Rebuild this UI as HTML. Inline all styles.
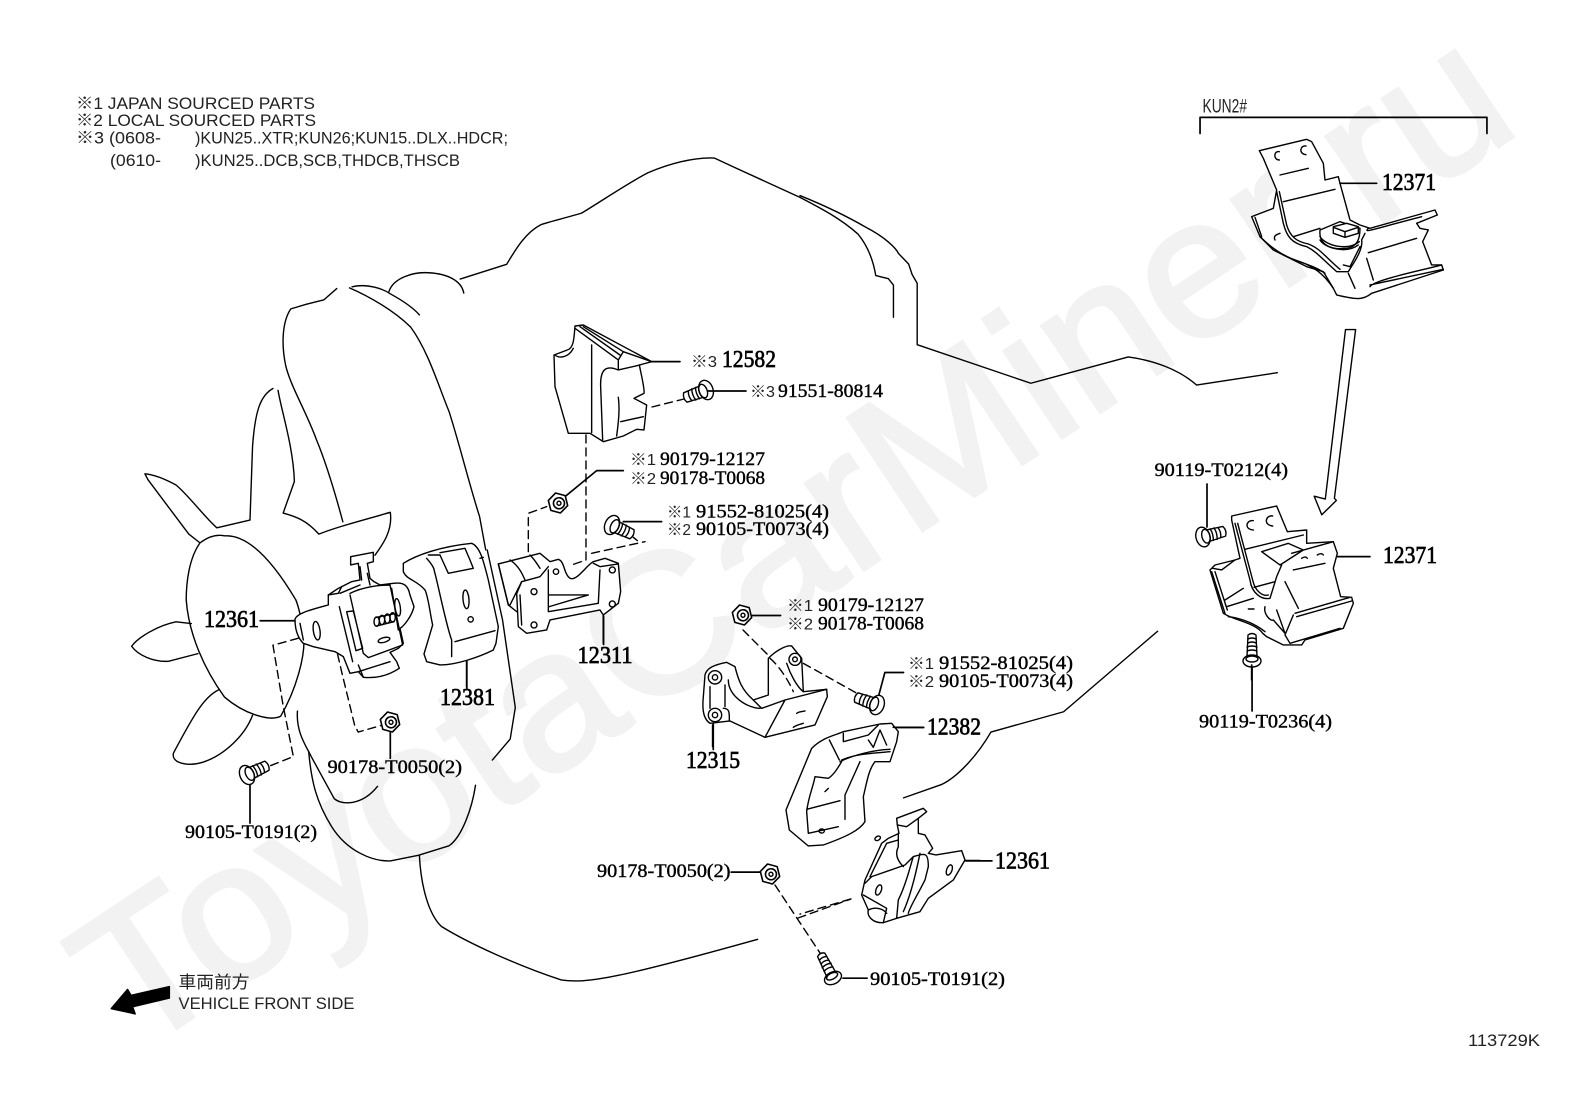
<!DOCTYPE html>
<html><head><meta charset="utf-8"><style>
html,body{margin:0;padding:0;background:#fff}
svg{display:block}
svg *{vector-effect:non-scaling-stroke}
.l{fill:none;stroke:#000;stroke-width:1.4;stroke-linejoin:round;stroke-linecap:round}
.l path.f,.f{fill:#fff}
.t{stroke-width:1.7}
.d{fill:none;stroke:#000;stroke-width:1.4;stroke-dasharray:8 5}
.b{font:24px "Liberation Serif",serif;fill:#000;stroke:#000;stroke-width:.7}
.s{font:18.5px "Liberation Serif",serif;fill:#000;stroke:#000;stroke-width:.4}
.k{font:16px "Liberation Sans","Noto Sans CJK JP",sans-serif;fill:#222}
.n{font:17px "Liberation Sans","Noto Sans CJK JP",sans-serif;fill:#222}
</style></head><body>
<svg width="1592" height="1099" viewBox="0 0 1592 1099" xmlns="http://www.w3.org/2000/svg">
<defs>
<g id="bolt" class="l">
<path class="f" d="M4,-6 L22,-5 Q25,0 22,5 L4,6 Z"/>
<path d="M9,-6 Q11,0 9,6 M13,-6 Q15,0 13,6 M17,-5 Q19,0 17,5"/>
<ellipse class="f" cx="0" cy="0" rx="7" ry="10"/><ellipse cx="3" cy="0" rx="4" ry="7"/>
</g>
<g id="boltL" class="l">
<path class="f" d="M4,-5 L26,-4 Q29,0 26,4 L4,5 Z"/>
<path d="M10,-5 Q12,0 10,5 M14,-5 Q16,0 14,5 M18,-4 Q20,0 18,4 M22,-4 Q24,0 22,4"/>
<ellipse class="f" cx="0" cy="0" rx="6" ry="9"/><ellipse cx="2" cy="0" rx="3" ry="6"/>
</g>
<g id="nut" class="l">
<polygon class="f" points="-5,-9 5,-9 10,0 5,9 -5,9 -10,0" style="stroke-width:1.6"/>
<circle cx="1" cy="0" r="5.5" style="stroke-width:1.6"/><circle cx="1" cy="0" r="2" style="stroke-width:1.4"/>
</g>
</defs>
<text transform="translate(133,1057) rotate(-33.7)" font-family="Liberation Sans,sans-serif" font-size="196" fill="#f2f2f2" stroke="#f2f2f2" stroke-width="4" textLength="1672" lengthAdjust="spacingAndGlyphs">ToyotaCarMiner.ru</text>

<!-- z1 outlines -->
<g class="l" transform="translate(0,50) scale(.5102 .3508)">
<path d="M902,653 L993,611 C1010,570 1030,520 1060,498 C1075,490 1100,482 1140,465 C1180,430 1230,380 1270,350 C1310,325 1360,305 1400,308 L1440,335 L1568,420"/>
<path d="M762,690 C770,650 810,632 840,635 C880,638 905,660 909,693"/>
<path d="M660,680 L635,712 L600,725 L570,738 C555,770 550,830 560,900 C570,960 600,1030 620,1110 C640,1180 660,1280 672,1345"/>
<path d="M685,678 C720,700 770,740 805,790 C840,860 860,960 880,1030 C900,1120 920,1240 940,1330 L952,1425"/>
<path d="M690,675 C720,665 750,680 765,695 C790,715 810,735 822,755"/>
<path d="M535,965 C510,985 500,1030 495,1130 L490,1340 L425,1362 C400,1330 370,1270 345,1240 C320,1220 300,1210 284,1208 L290,1225 L370,1380 L392,1405 C370,1450 365,1520 365,1568"/>
<path d="M545,970 C550,1020 575,1130 577,1230 L555,1320 C580,1330 600,1340 625,1380 C660,1360 700,1345 765,1318 C770,1370 750,1410 735,1440"/>
<path d="M392,1405 C410,1385 425,1380 440,1385 C490,1380 540,1470 580,1568"/>
</g>
<!-- z2 outlines -->
<g class="l" transform="translate(800,50) scale(.5051 .3508)">
<path d="M0,415 C60,450 100,480 130,505 C170,535 190,565 195,580 L215,610 L222,640 L232,665 L232,840 L457,950 L650,875 C700,885 750,910 785,955 L945,920"/>
<path d="M0,420 C40,450 80,480 115,525 C135,560 145,600 150,643 L175,652 L185,670 L185,762"/>
<path d="M792,238 V192 H1360 V238" class="t"/>
<path class="f" d="M1080,797 L1100,797 L1058,1278 L1062,1284 L1033,1325 L1018,1272 L1040,1280 Z"/>
</g>
<!-- z3 outlines -->
<g class="l" transform="translate(0,550) scale(.5102 .3501)">
<path d="M955,0 L985,200 L1010,450 L1000,540 L965,600"/>
<path d="M932,672 C925,740 905,820 880,845 L820,872 L765,888 C730,890 680,860 650,790 C620,720 610,660 605,575"/>
<path d="M583,460 C580,520 600,560 610,590 L655,710 C670,730 710,730 740,675"/>
<path d="M365,143 C370,240 400,340 440,420 C480,470 530,490 550,475 C580,400 600,300 595,240 C590,190 586,165 580,143"/>
<path d="M375,210 L345,205 C310,215 270,250 258,275 C270,300 300,320 330,318 L388,296"/>
<path d="M428,400 C400,420 380,470 340,580 C335,610 370,620 400,605 C440,585 480,530 495,472"/>
<path d="M822,872 C825,960 840,1040 865,1075 C920,1125 1020,1190 1100,1228 C1150,1240 1220,1220 1485,1112"/>
<path class="t" d="M510,202 H580 M765,515 V595 M490,670 V780 M1183,190 V270 M915,315 V395 M1398,495 V570 M1433,920 H1490 M1475,187 H1530"/>
<path class="d" d="M585,252 L535,272 L555,445 L575,590 L520,622"/>
<path class="d" d="M650,225 L670,350 L695,500 L702,520 L750,500"/>
<path d="M332,1247 L332,1280 L260,1305 L265,1325 L218,1310 L250,1255 L257,1272 Z" style="fill:#000"/>
</g>
<!-- z4 outlines -->
<g class="l" transform="translate(800,550) scale(.5051 .3501)">
<path d="M708,232 L522,462 L378,520 C350,590 310,650 280,670 L205,708"/>
<path class="t" d="M205,350 H168 L155,420 M188,507 H245 M328,888 H380 M85,1223 H133 M895,325 V460"/>
<path class="d" d="M100,997 L0,1040"/>
</g>

<!-- 12361 + 12381 -->
<g class="l" transform="translate(280,530) scale(.3333)">
<path class="f" d="M370,100 C410,75 480,50 575,40 C600,50 610,90 625,150 L655,290 L648,340 L640,360 C600,380 530,405 480,405 L440,395 L432,372 L458,285 C450,250 445,200 435,180 C410,150 380,150 370,125 Z"/>
<path d="M440,85 C470,120 460,120 465,130 C480,190 500,290 515,330 V380 M445,75 L480,75 L505,130 L580,115 L570,90 L555,55 L480,68 M525,335 L645,302 M600,85 L610,82"/>
<ellipse cx="558" cy="208" rx="9" ry="28" transform="rotate(-5 558 208)"/><circle cx="572" cy="268" r="8"/>
<path class="t" d="M560,395 V470"/>
<path class="f" d="M45,268 C50,250 90,240 145,225 L145,195 L175,175 L215,155 L240,150 L235,100 L212,105 L212,80 L280,67 L280,95 L262,100 L270,145 L282,155 L300,165 L340,160 C375,155 385,170 390,195 L402,230 C395,260 370,290 360,295 L370,340 L355,355 L330,367 L350,395 L358,415 C320,440 280,445 250,442 L235,425 L210,430 L190,380 L165,365 L100,350 L70,340 C50,320 45,290 45,268 Z"/>
<path d="M210,190 C250,170 300,165 330,165 L368,345 L265,383 L250,370 L210,195 M178,230 L218,395 M200,245 L220,243 L248,355 L228,362 Z M60,280 L70,330 M235,405 L250,442 M235,425 L330,395 M145,195 L175,190 L185,170 M180,190 L240,165 M240,110 L245,150 M262,130 L270,165 M335,175 L355,300"/>
<ellipse cx="110" cy="302" rx="10" ry="28" transform="rotate(-8 110 302)"/>
<ellipse cx="353" cy="232" rx="8" ry="26" transform="rotate(-8 353 232)"/>
<ellipse cx="312" cy="330" rx="18" ry="7" transform="rotate(-15 312 330)"/>
<path d="M290,262 L340,252 M290,288 L342,275"/><ellipse cx="290" cy="275" rx="8" ry="14"/><ellipse cx="306" cy="270" rx="8" ry="14"/><ellipse cx="322" cy="266" rx="8" ry="14"/><ellipse cx="338" cy="262" rx="8" ry="14"/>
</g>

<!-- 12582, 12311 -->
<g class="l" transform="translate(490,310) scale(.3333)">
<path class="f" d="M255,48 L280,45 L485,155 L448,165 C455,200 465,240 462,250 L432,265 L470,285 L462,360 L440,358 L400,378 L340,395 L300,370 L235,370 L195,230 L192,135 L232,120 C250,115 252,90 255,48 Z"/>
<path d="M305,105 V368 M255,55 L385,150 V180 L450,165 M385,150 L400,125 M280,50 L400,125 L485,155 M270,50 L390,135 M385,180 C350,165 330,175 332,230 L338,390 M385,262 C390,300 385,340 380,378 M392,335 L460,320 M195,135 C205,145 235,145 250,115"/>
<path class="t" d="M485,155 H570 M225,560 L320,482 H400 M400,635 H515"/>
<path class="d" d="M288,375 V750 L245,765"/>
<path class="d" d="M115,725 V610 L170,590"/>
<path class="d" d="M305,730 L465,695"/>
<path d="M430,682 L442,692"/>
<path class="f" d="M25,762 L150,730 L180,755 L205,748 C225,755 220,790 240,805 C260,815 290,765 310,755 L345,745 L385,760 L392,845 L385,880 L340,915 L330,900 L180,930 L170,960 L110,970 L85,950 L80,850 L95,815 L60,885 L55,885 Z"/>
<path d="M25,762 L55,885 L80,905 M60,750 C90,770 100,800 105,810 M80,850 L95,815 L150,800 L175,770 M120,735 C135,750 140,760 150,775 M175,780 V905 L325,880 L330,780 M178,855 L295,855 L178,890 M310,760 L330,770 L385,762 M90,855 L95,945"/>
<circle cx="132" cy="845" r="9"/><circle cx="132" cy="945" r="9"/><circle cx="367" cy="780" r="9"/><circle cx="367" cy="882" r="9"/><circle cx="198" cy="785" r="8"/>
<path class="t" d="M340,915 V1000"/>
</g>

<!-- hardware -->
<use href="#nut" transform="translate(558,503) rotate(15)"/>
<use href="#nut" transform="translate(390,722) rotate(15)"/>
<use href="#nut" transform="translate(742,615) rotate(15)"/>
<use href="#nut" transform="translate(770,874) rotate(15)"/>
<use href="#bolt" transform="translate(706,390) rotate(160)"/>
<use href="#bolt" transform="translate(612,525) rotate(25)"/>
<use href="#bolt" transform="translate(247,775) rotate(-25)"/>
<use href="#bolt" transform="translate(877,705) rotate(200)"/>
<use href="#boltL" transform="translate(833,978) rotate(243)"/>
<use href="#bolt" transform="translate(1203,537) rotate(-15)"/>
<use href="#boltL" transform="translate(1252,661) rotate(-90)"/>
<g class="l">
<path class="t" d="M708,391 H746 M1207,484 V527"/>
<path class="d" d="M652,407 L684,399"/>
<path class="d" d="M743,630 L768,655"/>
<path class="d" d="M775,885 L820,953"/>
<path class="d" d="M798,918 L851,899"/>
</g>

<!-- 12315 -->
<g class="l" transform="translate(690,630) scale(.3333)">
<path class="f" d="M45,135 C50,115 70,105 110,97 L135,110 C145,150 155,180 190,210 L235,195 V85 C260,60 290,45 305,48 L335,85 L340,185 L410,178 L412,200 L375,285 L225,322 L120,273 L60,280 C45,270 35,250 40,200 Z"/>
<path d="M60,170 V235 M105,165 V230 M190,210 L215,235 L285,210 L410,178 M285,210 L225,322 M290,100 C300,130 320,170 340,185 M115,150 C115,200 175,235 210,235 M100,235 C120,235 118,250 118,273"/>
<path class="d" d="M240,85 C270,110 300,160 310,185"/>
<circle cx="75" cy="142" r="20"/><circle cx="75" cy="142" r="8"/><circle cx="75" cy="255" r="20"/><circle cx="75" cy="255" r="8"/><circle cx="315" cy="88" r="18"/><circle cx="315" cy="88" r="7"/>
<path d="M320,250 C325,245 335,245 345,243 M310,292 C318,285 330,283 340,280"/>
<path class="t" d="M68,285 V350"/>
<path class="d" d="M340,100 L510,195"/>
</g>

<!-- 12382, 12361 lower -->
<g class="l" transform="translate(780,720) scale(.3333)">
<path class="f" d="M18,270 L95,85 C130,50 170,45 190,35 L300,12 L335,10 L355,35 L350,65 L330,125 L285,125 C265,150 260,190 250,230 L255,305 C240,330 200,350 130,375 L85,378 L28,330 Z"/>
<path d="M148,60 L178,120 M190,40 V65 L265,45 L295,15 M265,60 L280,82 L300,30 L320,75 M180,125 C220,105 280,90 330,88 M185,120 C230,100 280,100 330,95 M105,170 C100,200 85,230 80,275 L85,340 M105,170 L145,175 C160,165 170,150 185,125 M80,268 L180,242 M240,125 L195,225 V298 M85,340 L175,320 M135,215 L145,205"/>
<ellipse cx="125" cy="333" rx="8" ry="6"/>
<path class="t" d="M340,22 H430"/>
<path class="f" d="M350,295 L430,265 L440,275 L415,295 L415,340 L435,345 L458,385 L445,400 L468,405 L545,392 L555,420 L520,480 L445,535 L420,575 L350,595 L310,608 C280,610 260,590 265,570 L245,525 L255,480 L305,370 L325,355 L357,340 L352,315 Z"/>
<path d="M352,315 L380,320 L415,295 M355,340 V380 C345,400 350,420 370,440 M255,490 L275,470 L375,435 L400,410 C435,400 445,395 445,440 L435,480 C410,530 390,560 385,580 M400,410 C390,440 380,490 355,540 L350,595 M250,525 L320,565 L310,608 M270,470 L320,370 L355,360 M265,570 C285,560 310,565 320,580 M420,400 C410,450 395,520 370,575"/>
<ellipse cx="293" cy="355" rx="9" ry="6" transform="rotate(-30 293 355)"/>
<ellipse cx="296" cy="510" rx="8" ry="16" transform="rotate(20 296 510)"/>
<ellipse cx="508" cy="450" rx="8" ry="16" transform="rotate(20 508 450)"/>
<path class="t" d="M555,422 H600"/>
</g>

<!-- 12371 top -->
<g class="l" transform="translate(1240,130) scale(.3333)">
<path class="f" d="M58,62 L200,28 L215,35 L250,100 L255,150 L295,140 L300,160 L330,270 L360,285 L390,295 L585,240 L592,255 L530,280 L540,295 L565,300 L548,335 L575,405 L605,405 L610,420 L395,490 C370,510 350,510 290,495 L280,475 L250,425 L200,410 L100,360 L60,320 L35,260 L100,235 L110,180 L70,85 Z"/>
<path d="M120,135 L205,115 M130,215 L285,178 M110,185 L130,280 C140,320 155,340 200,350 C230,365 250,390 290,425 H325 M118,185 L140,285 C150,320 170,335 205,342 C240,355 255,380 300,418 M160,320 L240,295 M360,350 L330,410 L310,405 M375,310 L365,330 C370,360 340,400 325,425 M385,295 C370,310 390,300 545,260 M385,368 L530,325 M380,385 L400,450 M390,470 C400,450 550,420 605,405 M390,465 L610,418 M325,430 L345,475 M60,320 C90,350 130,380 180,395 C220,410 250,430 280,475 M105,330 C100,320 105,315 120,310 M45,262 L65,320 M130,375 C170,395 220,405 255,430"/>
<path class="f" d="M240,300 C235,350 280,360 320,355 C350,350 360,330 360,295 L300,275 Z"/>
<path d="M240,320 C255,345 320,365 358,335 M240,330 C255,355 320,372 355,345"/>
<path class="f" d="M280,290 L320,280 L355,290 V310 L315,322 L280,310 Z"/>
<path d="M315,305 V322 M280,292 L315,305 L355,292"/>
<path d="M118,65 C100,62 100,90 118,90 M198,48 C180,45 175,72 198,74"/>
<path class="t" d="M300,160 H410"/>
</g>

<!-- 12371 lower -->
<g class="l" transform="translate(1190,500) scale(.3333)">
<path class="f" d="M125,48 L260,18 L292,95 L350,90 L350,130 L430,125 L442,160 L430,205 L452,290 L485,292 L490,310 L460,385 L345,420 L335,435 L280,435 L230,410 L218,400 C200,370 130,360 100,340 L60,210 L75,195 L135,180 L150,175 L125,60 Z"/>
<path d="M135,70 L180,240 C185,280 215,300 240,295 L260,230 L275,195 M143,70 L188,240 C195,275 220,290 235,285 M165,148 L340,105 M215,155 L295,130 L340,150 L270,195 Z M305,160 L430,125 M310,210 L405,190 M285,245 L325,325 M192,262 L255,245 M105,300 L160,265 M110,320 L190,295 M315,340 L480,292 M320,350 L485,303 M310,345 L285,405 L300,430 L450,385 M225,320 C220,340 240,365 250,360 L285,400 M260,330 L285,400 M68,205 L95,210 L135,180 M65,215 L105,340 M75,215 L112,330 M175,327 H192 M335,175 C345,168 350,172 352,175 M382,165 C392,158 398,162 400,165 M115,350 C160,355 200,375 225,395"/>
<path d="M190,62 C170,58 160,88 190,90 M248,48 C228,44 218,75 248,78"/>
<path class="t" d="M442,170 H540 M185,495 V540"/>
</g>

<!-- labels -->
<text class="n" x="76" y="109" textLength="239" lengthAdjust="spacingAndGlyphs">※1 JAPAN SOURCED PARTS</text>
<text class="n" x="76" y="126" textLength="240" lengthAdjust="spacingAndGlyphs">※2 LOCAL SOURCED PARTS</text>
<text class="n" x="76" y="143.5" textLength="85" lengthAdjust="spacingAndGlyphs">※3 (0608-</text>
<text class="n" x="195" y="143.5" textLength="313" lengthAdjust="spacingAndGlyphs">)KUN25..XTR;KUN26;KUN15..DLX..HDCR;</text>
<text class="n" x="110" y="166" textLength="51" lengthAdjust="spacingAndGlyphs">(0610-</text>
<text class="n" x="195" y="166" textLength="265" lengthAdjust="spacingAndGlyphs">)KUN25..DCB,SCB,THDCB,THSCB</text>
<text class="n" x="1202.5" y="112.5" textLength="44.5" lengthAdjust="spacingAndGlyphs" style="font-size:19px">KUN2#</text>
<text class="n" x="1468" y="1046" textLength="72" lengthAdjust="spacingAndGlyphs">113729K</text>
<text class="n" x="178.5" y="988" textLength="71" lengthAdjust="spacingAndGlyphs" style="font-size:17px">車両前方</text>
<text class="n" x="178.5" y="1009" textLength="176" lengthAdjust="spacingAndGlyphs">VEHICLE FRONT SIDE</text>

<text class="b" x="722" y="367" textLength="54" lengthAdjust="spacingAndGlyphs">12582</text>
<text class="b" x="1382" y="190" textLength="54" lengthAdjust="spacingAndGlyphs">12371</text>
<text class="b" x="1383" y="563" textLength="54" lengthAdjust="spacingAndGlyphs">12371</text>
<text class="b" x="204" y="627" textLength="55" lengthAdjust="spacingAndGlyphs">12361</text>
<text class="b" x="577.5" y="663" textLength="55" lengthAdjust="spacingAndGlyphs">12311</text>
<text class="b" x="440" y="705" textLength="55" lengthAdjust="spacingAndGlyphs">12381</text>
<text class="b" x="686" y="768" textLength="54" lengthAdjust="spacingAndGlyphs">12315</text>
<text class="b" x="927" y="734.5" textLength="54" lengthAdjust="spacingAndGlyphs">12382</text>
<text class="b" x="995" y="868.5" textLength="55" lengthAdjust="spacingAndGlyphs">12361</text>

<text class="k" x="691" y="367" textLength="26" lengthAdjust="spacingAndGlyphs">※3</text>
<text class="k" x="750" y="397" textLength="25" lengthAdjust="spacingAndGlyphs">※3</text>
<text class="s" x="778" y="397" textLength="105" lengthAdjust="spacingAndGlyphs">91551-80814</text>
<text class="k" x="630" y="465" textLength="26" lengthAdjust="spacingAndGlyphs">※1</text>
<text class="s" x="660" y="465" textLength="105" lengthAdjust="spacingAndGlyphs">90179-12127</text>
<text class="k" x="630" y="484" textLength="26" lengthAdjust="spacingAndGlyphs">※2</text>
<text class="s" x="660" y="484" textLength="105" lengthAdjust="spacingAndGlyphs">90178-T0068</text>
<text class="k" x="667" y="517.5" textLength="24" lengthAdjust="spacingAndGlyphs">※1</text>
<text class="s" x="696" y="517.5" textLength="133" lengthAdjust="spacingAndGlyphs">91552-81025(4)</text>
<text class="k" x="667" y="535" textLength="24" lengthAdjust="spacingAndGlyphs">※2</text>
<text class="s" x="696" y="535" textLength="133" lengthAdjust="spacingAndGlyphs">90105-T0073(4)</text>
<text class="s" x="1154.5" y="476" textLength="133.5" lengthAdjust="spacingAndGlyphs">90119-T0212(4)</text>
<text class="s" x="327.5" y="773" textLength="134.5" lengthAdjust="spacingAndGlyphs">90178-T0050(2)</text>
<text class="s" x="185" y="838" textLength="132" lengthAdjust="spacingAndGlyphs">90105-T0191(2)</text>
<text class="s" x="597" y="877" textLength="133.5" lengthAdjust="spacingAndGlyphs">90178-T0050(2)</text>
<text class="s" x="870" y="985" textLength="135" lengthAdjust="spacingAndGlyphs">90105-T0191(2)</text>
<text class="s" x="1199" y="727.5" textLength="133" lengthAdjust="spacingAndGlyphs">90119-T0236(4)</text>
<text class="k" x="787" y="611" textLength="26" lengthAdjust="spacingAndGlyphs">※1</text>
<text class="s" x="818" y="611" textLength="106" lengthAdjust="spacingAndGlyphs">90179-12127</text>
<text class="k" x="787" y="629.5" textLength="26" lengthAdjust="spacingAndGlyphs">※2</text>
<text class="s" x="818" y="629.5" textLength="106" lengthAdjust="spacingAndGlyphs">90178-T0068</text>
<text class="k" x="908" y="669" textLength="26" lengthAdjust="spacingAndGlyphs">※1</text>
<text class="s" x="939" y="669" textLength="134" lengthAdjust="spacingAndGlyphs">91552-81025(4)</text>
<text class="k" x="908" y="687" textLength="26" lengthAdjust="spacingAndGlyphs">※2</text>
<text class="s" x="939" y="687" textLength="134" lengthAdjust="spacingAndGlyphs">90105-T0073(4)</text>
</svg>
</body></html>
